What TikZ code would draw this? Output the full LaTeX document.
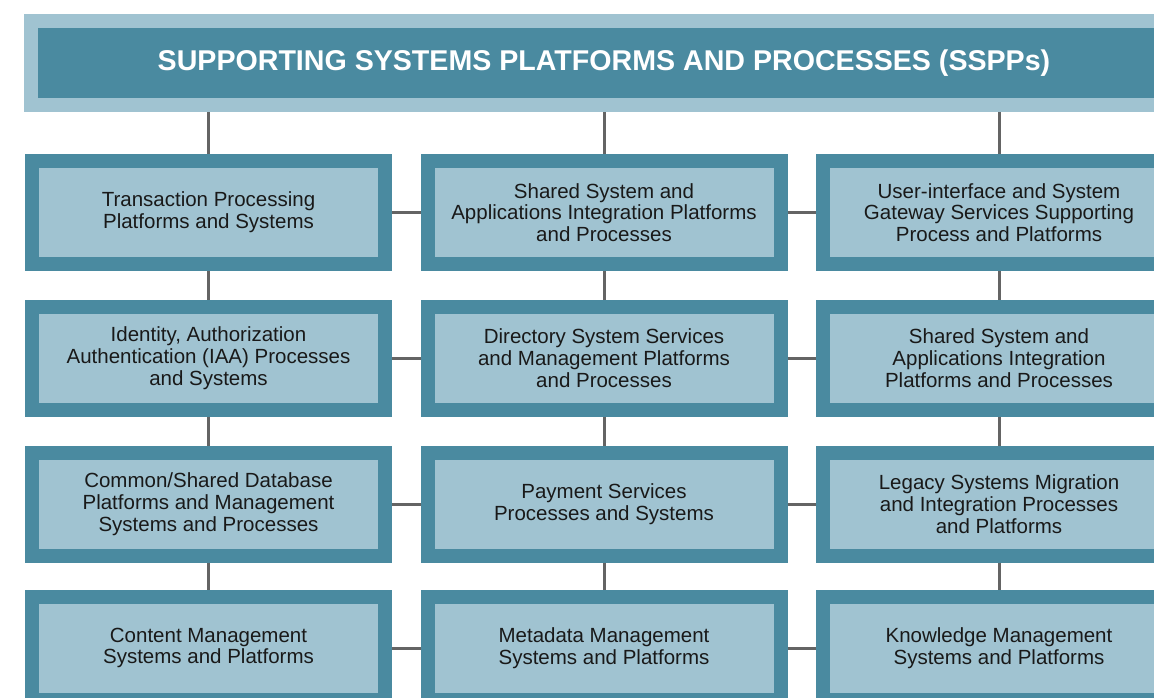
\documentclass[tikz,border=0pt]{standalone}
\usepackage{fontspec}
\setmainfont{Liberation Sans}
\definecolor{dk}{RGB}{74,138,160}
\definecolor{lt}{RGB}{160,195,209}
\definecolor{ln}{RGB}{100,100,100}
\definecolor{tx}{RGB}{25,25,25}
\begin{document}
\begin{tikzpicture}[x=1pt,y=-1pt,
 item/.style={draw=dk, line width=14pt, fill=lt, minimum width=353pt, minimum height=103pt, inner sep=0pt, align=center, text=tx, font=\fontsize{20.5}{21.7}\selectfont},
 head/.style={draw=lt, line width=14pt, fill=dk, minimum width=1146pt, minimum height=84pt, inner sep=0pt, text=white, font=\bfseries\fontsize{28.6}{30}\selectfont},
 link/.style={draw=ln, line width=3pt}]
\useasboundingbox (0,0) rectangle (1154,697);
\clip (0,0) rectangle (1154,697);
\fill[white] (0,0) rectangle (1154,697);

\node[head] (h) at (604,63) {SUPPORTING SYSTEMS PLATFORMS AND PROCESSES (SSPPs)};

\node[item] (a1) at (208.5,212.5) {Transaction Processing\\Platforms and Systems};
\node[item] (b1) at (604,212.5) {Shared System and\\Applications Integration Platforms\\and Processes};
\node[item] (c1) at (999,212.5) {User-interface and System\\Gateway Services Supporting\\Process and Platforms};

\node[item] (a2) at (208.5,358) {Identity, Authorization\\Authentication (IAA) Processes\\and Systems};
\node[item] (b2) at (604,358) {Directory System Services\\and Management Platforms\\and Processes};
\node[item] (c2) at (999,358) {Shared System and\\Applications Integration\\Platforms and Processes};

\node[item] (a3) at (208.5,504) {Common/Shared Database\\Platforms and Management\\Systems and Processes};
\node[item] (b3) at (604,504) {Payment Services\\Processes and Systems};
\node[item] (c3) at (999,504) {Legacy Systems Migration\\and Integration Processes\\and Platforms};

\node[item] (a4) at (208.5,648) {Content Management\\Systems and Platforms};
\node[item] (b4) at (604,648) {Metadata Management\\Systems and Platforms};
\node[item] (c4) at (999,648) {Knowledge Management\\Systems and Platforms};

\foreach \c in {a,b,c}{
  \draw[link] (\c1.north |- h.south) -- (\c1.north);
  \draw[link] (\c1.south) -- (\c2.north);
  \draw[link] (\c2.south) -- (\c3.north);
  \draw[link] (\c3.south) -- (\c4.north);
}
\foreach \r in {1,2,3,4}{
  \draw[link] (a\r.east) -- (b\r.west);
  \draw[link] (b\r.east) -- (c\r.west);
}
\end{tikzpicture}
\end{document}
